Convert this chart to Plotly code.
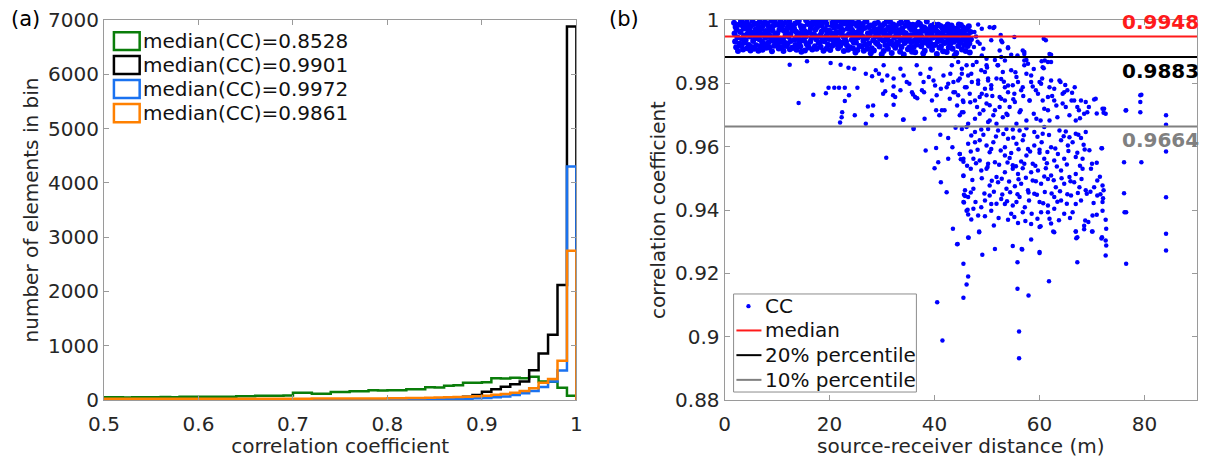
import numpy as np
import plotly.graph_objects as go

# ---------------- Panel (a): histogram data ----------------
bin_edges = np.round(np.linspace(0.5, 1.0, 51), 2)

counts_green = [50, 50, 48, 50, 52, 50, 55, 52, 60, 58,
                62, 60, 62, 60, 67, 67, 78, 80, 80, 85,
                135, 135, 117, 117, 147, 147, 160, 160, 178, 175,
                180, 178, 196, 200, 233, 230, 264, 270, 320, 318,
                325, 400, 398, 410, 400, 430, 340, 338, 225, 80]
counts_black = [15, 15, 15, 15, 15, 15, 15, 15, 15, 15,
                15, 15, 15, 15, 15, 15, 15, 15, 15, 15,
                15, 15, 15, 15, 15, 15, 15, 15, 15, 15,
                20, 20, 22, 25, 28, 30, 35, 45, 60, 90,
                150, 200, 245, 290, 340, 550, 855, 1200, 2120, 6880]
counts_blue = [5, 5, 5, 5, 5, 5, 5, 5, 5, 5,
               5, 5, 5, 5, 5, 5, 5, 5, 5, 5,
               5, 5, 5, 5, 5, 5, 5, 5, 5, 5,
               8, 9, 10, 11, 12, 14, 16, 19, 24, 30,
               38, 50, 65, 92, 123, 165, 240, 340, 545, 4300]
counts_orange = [22, 22, 22, 22, 22, 22, 22, 22, 22, 22,
                 22, 22, 22, 22, 22, 22, 22, 22, 22, 22,
                 25, 25, 26, 26, 27, 27, 28, 28, 29, 29,
                 30, 32, 35, 38, 42, 46, 50, 55, 62, 70,
                 80, 95, 110, 135, 165, 215, 320, 385, 725, 2750]

hist_labels = ["median(CC)=0.8528", "median(CC)=0.9901",
               "median(CC)=0.9972", "median(CC)=0.9861"]
hist_colors = ["#0a7d0a", "#000000", "#1a72f0", "#ff8000"]

# ---------------- Panel (b): scatter data ----------------
band_x = [
 1.8, 1.9, 2.0, 2.1, 2.2, 2.3, 2.45, 2.55, 2.7, 2.85,
 3.02, 3.13, 3.22, 3.31, 3.44, 3.52, 3.63, 3.71, 3.84, 3.93,
 4.02, 4.13, 4.22, 4.31, 4.44, 4.52, 4.63, 4.71, 4.84, 4.93,
 5.02, 5.13, 5.22, 5.31, 5.44, 5.52, 5.63, 5.71, 5.84, 5.93,
 6.02, 6.13, 6.22, 6.31, 6.44, 6.52, 6.63, 6.71, 6.84, 6.93,
 7.02, 7.13, 7.22, 7.31, 7.44, 7.52, 7.63, 7.71, 7.84, 7.93,
 8.02, 8.13, 8.22, 8.31, 8.44, 8.52, 8.63, 8.71, 8.84, 8.93,
 9.02, 9.13, 9.22, 9.31, 9.44, 9.52, 9.63, 9.71, 9.84, 9.93,
 10.02, 10.13, 10.22, 10.31, 10.44, 10.52, 10.63, 10.71, 10.84, 10.93,
 11.02, 11.13, 11.22, 11.31, 11.44, 11.52, 11.63, 11.71, 11.84, 11.93,
 12.02, 12.13, 12.22, 12.31, 12.44, 12.52, 12.63, 12.71, 12.84, 12.93,
 13.02, 13.13, 13.22, 13.31, 13.44, 13.52, 13.63, 13.71, 13.84, 13.93,
 14.02, 14.13, 14.22, 14.31, 14.44, 14.52, 14.63, 14.71, 14.84, 14.93,
 15.02, 15.13, 15.22, 15.31, 15.44, 15.52, 15.63, 15.71, 15.84, 15.93,
 16.02, 16.13, 16.22, 16.31, 16.44, 16.52, 16.63, 16.71, 16.84, 16.93,
 17.02, 17.13, 17.22, 17.31, 17.44, 17.52, 17.63, 17.71, 17.84, 17.93,
 18.02, 18.13, 18.22, 18.31, 18.44, 18.52, 18.63, 18.71, 18.84, 18.93,
 19.02, 19.13, 19.22, 19.31, 19.44, 19.52, 19.63, 19.71, 19.84, 19.93,
 20.02, 20.13, 20.22, 20.31, 20.44, 20.52, 20.63, 20.71, 20.84, 20.93,
 21.02, 21.13, 21.22, 21.31, 21.44, 21.52, 21.63, 21.71, 21.84, 21.93,
 22.02, 22.13, 22.22, 22.31, 22.44, 22.52, 22.63, 22.71, 22.84, 22.93,
 23.02, 23.13, 23.22, 23.31, 23.44, 23.52, 23.63, 23.71, 23.84, 23.93,
 24.02, 24.13, 24.22, 24.31, 24.44, 24.52, 24.63, 24.71, 24.84, 24.93,
 25.02, 25.13, 25.22, 25.31, 25.44, 25.52, 25.63, 25.71, 25.84, 25.93,
 26.02, 26.13, 26.22, 26.31, 26.44, 26.52, 26.63, 26.71, 26.84, 26.93,
 27.02, 27.13, 27.22, 27.31, 27.44, 27.52, 27.63, 27.71, 27.84, 27.93,
 28.02, 28.13, 28.22, 28.31, 28.44, 28.52, 28.63, 28.71, 28.84, 28.93,
 29.02, 29.13, 29.22, 29.31, 29.44, 29.52, 29.63, 29.71, 29.84, 29.93,
 30.02, 30.13, 30.22, 30.31, 30.44, 30.52, 30.63, 30.71, 30.84, 30.93,
 31.02, 31.13, 31.22, 31.31, 31.44, 31.52, 31.63, 31.71, 31.84, 31.93,
 32.02, 32.13, 32.22, 32.31, 32.44, 32.52, 32.63, 32.71, 32.84, 32.93,
 33.02, 33.13, 33.22, 33.31, 33.44, 33.52, 33.63, 33.71, 33.84, 33.93,
 34.02, 34.13, 34.22, 34.31, 34.44, 34.52, 34.63, 34.71, 34.84, 34.93,
 35.02, 35.13, 35.22, 35.31, 35.44, 35.52, 35.63, 35.71, 35.84, 35.93,
 36.02, 36.13, 36.22, 36.31, 36.44, 36.52, 36.63, 36.71, 36.84, 36.93,
 37.02, 37.13, 37.22, 37.31, 37.44, 37.52, 37.63, 37.71, 37.84, 37.93,
 38.02, 38.13, 38.22, 38.31, 38.44, 38.52, 38.63, 38.71, 38.84, 38.93,
 39.02, 39.13, 39.22, 39.31, 39.44, 39.52, 39.63, 39.71, 39.84, 39.93,
 40.02, 40.13, 40.22, 40.31, 40.44, 40.52, 40.63, 40.71, 40.84, 40.93,
 41.02, 41.13, 41.22, 41.31, 41.44, 41.52, 41.63, 41.71, 41.84, 41.93,
 42.02, 42.13, 42.22, 42.31, 42.44, 42.52, 42.63, 42.71, 42.84, 42.93,
 43.02, 43.13, 43.22, 43.31, 43.44, 43.52, 43.63, 43.71, 43.84, 43.93,
 44.02, 44.13, 44.22, 44.31, 44.44, 44.52, 44.63, 44.71, 44.84, 44.93,
 45.02, 45.13, 45.22, 45.31, 45.44, 45.52, 45.63, 45.71, 45.84, 45.93,
 46.02, 46.13, 46.22, 46.31, 46.44, 46.52, 46.63, 46.71, 46.84, 46.93,
]
band_y = [
 .9991, .9957, .9932, .9978, .9914, .9969, .9945, .9902, .9985, .9925,
 .9962, .9996, .9918, .9940, .9983, .9907, .9973, .9951, .9929, .9989,
 .9937, .9975, .9993, .9911, .9958, .9984, .9921, .9966, .9948, .9904,
 .9980, .9915, .9954, .9997, .9934, .9961, .9909, .9987, .9942, .9970,
 .9920, .9949, .9988, .9963, .9903, .9976, .9939, .9994, .9917, .9955,
 .9971, .9931, .9906, .9982, .9953, .9924, .9992, .9944, .9965, .9912,
 .9946, .9990, .9960, .9928, .9979, .9913, .9950, .9972, .9935, .9998,
 .9901, .9967, .9981, .9943, .9919, .9995, .9956, .9927, .9986, .9938,
 .9958, .9923, .9986, .9910, .9969, .9941, .9997, .9932, .9977, .9915,
 .9984, .9940, .9902, .9966, .9928, .9991, .9952, .9918, .9961, .9973,
 .9926, .9979, .9947, .9996, .9908, .9955, .9934, .9983, .9912, .9968,
 .9968, .9912, .9974, .9938, .9989, .9921, .9963, .9906, .9949, .9993,
 .9943, .9997, .9929, .9957, .9916, .9981, .9900, .9972, .9936, .9952,
 .9979, .9935, .9965, .9904, .9948, .9999, .9924, .9959, .9987, .9917,
 .9913, .9962, .9990, .9931, .9974, .9944, .9985, .9907, .9954, .9997,
 .9955, .9988, .9917, .9970, .9939, .9909, .9978, .9946, .9998, .9929,
 .9992, .9927, .9953, .9915, .9983, .9964, .9937, .9995, .9903, .9971,
 .9933, .9971, .9998, .9949, .9910, .9986, .9958, .9922, .9967, .9940,
 .9964, .9905, .9942, .9984, .9957, .9919, .9993, .9935, .9976, .9950,
 .9986, .9951, .9924, .9962, .9997, .9940, .9911, .9979, .9931, .9960,
 .9918, .9976, .9958, .9993, .9927, .9968, .9948, .9902, .9989, .9937,
 .9949, .9932, .9995, .9920, .9973, .9906, .9985, .9956, .9914, .9980,
 .9975, .9996, .9938, .9967, .9911, .9954, .9929, .9990, .9944, .9897,
 .9929, .9960, .9982, .9905, .9945, .9992, .9968, .9918, .9957, .9978,
 .9966, .9917, .9949, .9987, .9934, .9903, .9975, .9942, .9999, .9923,
 .9995, .9942, .9909, .9958, .9978, .9926, .9952, .9983, .9895, .9963,
 .9911, .9983, .9964, .9936, .9904, .9972, .9989, .9947, .9928, .9956,
 .9957, .9924, .9991, .9971, .9946, .9916, .9940, .9977, .9962, .9892,
 .9983, .9965, .9935, .9902, .9988, .9953, .9921, .9968, .9939, .9997,
 .9938, .9909, .9977, .9951, .9925, .9994, .9961, .9932, .9896, .9974,
 .9970, .9986, .9920, .9944, .9965, .9912, .9981, .9955, .9929, .9948,
 .9924, .9953, .9968, .9989, .9900, .9937, .9992, .9915, .9973, .9961,
 .9961, .9891, .9944, .9927, .9982, .9958, .9934, .9996, .9950, .9908,
 .9987, .9945, .9913, .9975, .9952, .9930, .9969, .9900, .9985, .9934,
 .9915, .9972, .9956, .9898, .9939, .9984, .9923, .9962, .9943, .9991,
 .9952, .9935, .9987, .9963, .9917, .9947, .9978, .9929, .9894, .9966,
 .9976, .9903, .9940, .9928, .9971, .9995, .9955, .9937, .9962, .9919,
 .9936, .9967, .9926, .9981, .9958, .9906, .9944, .9973, .9921, .9986,
 .9967, .9922, .9979, .9947, .9893, .9963, .9933, .9985, .9954, .9912,
 .9942, .9981, .9916, .9959, .9934, .9975, .9901, .9950, .9968, .9927,
 .9978, .9948, .9930, .9899, .9965, .9986, .9939, .9913, .9957, .9970,
 .9925, .9961, .9983, .9940, .9909, .9952, .9974, .9931, .9888, .9946,
 .9959, .9896, .9945, .9972, .9938, .9918, .9986, .9955, .9929, .9964,
 .9984, .9937, .9907, .9953, .9976, .9943, .9921, .9967, .9949, .9902,
 .9934, .9969, .9951, .9918, .9945, .9980, .9926, .9897, .9962, .9939,
]

sparse_x = [
 12.4, 15.7, 14.1, 16.9, 19.3, 19.8, 20.9, 21.8, 22.9, 25.3, 20.2, 22.1, 23.6, 24.7, 23.7, 22.9,
 22.4, 22.3, 22.0, 24.8, 26.9, 27.3, 28.3, 26.9, 28.1, 28.8, 30.3, 31.0, 30.2, 30.6, 28.1, 30.8,
 32.2, 32.1, 32.2, 32.2, 33.5, 34.0, 34.1, 34.7, 36.0, 35.7, 36.3, 36.6, 37.3, 37.9, 38.0, 39.2,
 39.8, 40.1, 40.4, 40.9, 41.4, 41.7, 42.3, 42.9, 43.3, 43.6, 43.9, 44.3, 44.8, 45.2, 45.4,
 29.4, 30.0, 32.5, 33.5, 34.1, 35.2, 35.9, 36.7, 37.6, 38.1, 38.9, 39.5, 40.3, 41.2, 41.9, 42.6,
 43.0, 43.6, 44.5, 45.5, 46.1, 46.4, 47.0, 47.7, 48.3, 48.6, 49.0, 49.6, 49.9, 50.2, 50.5, 50.8,
 51.5, 52.0, 52.4, 52.7, 53.0, 53.4, 54.0, 54.3, 54.6, 55.2, 55.6, 55.9, 56.4, 56.8, 57.1, 57.5,
 58.1, 58.4, 58.9, 59.3, 60.0, 60.2, 60.6, 61.0, 61.6, 61.9, 62.2, 62.8, 63.4, 64.0, 64.4, 65.0,
 65.3, 66.1, 66.7, 66.9, 67.5, 67.9, 68.5, 68.8, 70.4, 72.0, 72.2, 72.6, 76.5, 79.2, 79.2, 79.2,
 84.1, 84.1,
 44.5, 45.2, 46.1, 44.8, 46.4, 45.8, 47.1, 44.5, 45.5, 46.7, 45.2, 47.7, 48.0, 48.9, 49.9, 48.3,
 50.2, 49.6, 50.8, 48.6, 49.9, 50.5, 49.3, 51.2, 51.8, 50.2, 52.1, 53.0, 51.8, 53.4, 52.7, 54.0,
 52.4, 53.7, 54.9, 55.6, 55.3, 56.5, 56.2, 57.5, 58.4, 58.1, 59.4, 59.7, 60.3, 60.9, 61.6, 61.9,
 62.8, 63.8, 64.4, 64.7, 65.7, 66.6, 67.2, 69.1, 70.7, 72.3, 76.4, 79.4,
 48.3, 49.0, 48.6, 49.3, 50.5, 51.2, 50.8, 52.6, 52.9, 52.4, 54.0, 54.6, 55.2, 56.8, 57.1, 60.8,
 61.2, 61.9, 62.2, 52.7, 51.5, 49.0, 49.9, 53.4, 57.5, 57.8, 60.6, 61.6, 47.6, 47.9, 48.2, 47.5,
 51.4, 52.7, 54.0, 57.1, 55.8, 57.1, 60.4, 60.8, 62.2,
 45.2, 46.1, 47.7, 48.9, 50.2, 52.1, 53.7, 54.9, 56.2, 57.5, 59.0, 60.6, 60.9, 63.8, 65.0, 65.7,
 66.9, 67.9, 68.8,
 46.4, 47.7, 48.6, 49.9, 50.8, 51.2, 54.0, 53.4, 55.6, 56.8, 57.8, 59.0, 60.4, 62.2, 64.1, 65.4,
 66.3, 68.4, 68.6,
 44.8, 45.5, 47.4, 48.6, 50.2, 51.5, 53.4, 54.3, 54.9, 56.5, 57.5, 58.7, 60.0, 60.9, 62.8, 63.5,
 64.7, 66.9, 68.2, 70.0, 71.9,
 45.5, 46.9, 48.9, 49.9, 51.8, 53.4, 54.9, 55.9, 56.8, 58.4, 59.7, 61.2, 62.2, 64.1, 65.7, 66.9,
 68.2, 69.8,
 45.8, 47.4, 50.5, 52.1, 53.7, 55.3, 56.5, 57.8, 58.7, 60.3, 61.6, 63.1, 64.7, 66.6, 67.6, 68.8,
 70.4, 71.0, 72.0, 72.2,
 45.5, 46.4, 48.9, 50.5, 50.8, 52.7, 53.4, 54.9, 56.2, 57.2, 59.0, 60.0, 61.6, 62.8, 64.1, 66.0,
 66.9, 69.0, 71.0, 72.0, 72.1,
 46.1, 47.4, 48.3, 49.6, 50.8, 54.6, 56.8, 58.5, 60.3, 61.6, 61.9, 62.8, 64.7, 66.3, 68.7, 70.1,
 70.9, 72.0, 72.6,
 46.4, 48.5, 51.3, 54.0, 55.9, 58.4, 60.2, 62.2, 62.8, 66.9, 70.0, 71.9, 72.7,
 44.4, 49.1, 51.5, 54.9, 56.7, 58.4, 60.0, 67.2, 72.6, 72.7, 72.6,
 30.8, 36.0, 38.3, 40.3, 41.1, 42.6, 43.4, 44.0, 40.7, 40.0, 42.6, 44.8, 45.0, 45.5, 41.2, 42.3,
 45.5, 45.6, 45.6, 43.5, 44.3,
 45.5, 55.8, 67.2, 76.5, 46.4, 46.1, 61.8, 55.8, 57.9, 45.5, 40.5, 56.1, 41.5, 56.1,
 84.1, 84.1, 84.1, 76.2, 76.5, 76.1, 71.8, 70.1, 68.5, 68.5, 66.9, 67.0, 62.6, 60.0, 60.0, 56.6,
 48.5, 46.5, 46.4, 46.3, 45.8, 71.8, 76.1, 79.4, 84.1,
 47.0, 49.3, 51.7, 53.1, 55.0, 57.0, 59.6, 61.8, 64.6, 67.4,
 46.9, 48.2, 50.5, 52.6, 54.6, 56.0, 58.2, 60.0, 61.5, 63.0, 65.5, 67.2, 69.5,
 46.2, 47.9, 50.1, 52.3, 53.9, 55.5, 57.1, 59.2, 61.4, 63.3, 65.2, 67.7, 70.9,
 47.2, 49.0, 50.9, 52.8, 54.2, 56.0, 57.4, 59.3, 60.9, 62.7, 64.2, 65.9, 68.0, 71.5,
 46.9, 49.5, 51.3, 52.9, 54.4, 55.8, 57.9, 59.5, 61.0, 62.3, 63.9, 65.3, 67.3, 69.7, 71.6,
 47.8, 49.6, 51.8, 53.8, 55.6, 58.0, 60.7, 63.4, 65.2, 67.9, 70.3,
 47.0, 52.2, 55.2, 57.3, 59.6, 63.7, 65.8, 69.3,
 46.8, 48.1, 51.0, 53.2, 55.0, 56.9, 58.7, 60.5, 62.4, 63.2, 64.9, 66.2, 67.7, 69.4, 70.9, 55.4,
 58.9, 50.0, 47.3, 53.9,
]
sparse_y = [
 .9859, .9870, .9738, .9764, .9769, .9786, .9786, .9786, .9786, .9786, .9864, .9859, .9849, .9846, .9762, .9744,
 .9709, .9693, .9676, .9699, .9672, .9727, .9730, .9830, .9822, .9841, .9857, .9825, .9767, .9775, .9699, .9699,
 .9732, .9762, .9790, .9815, .9846, .9685, .9825, .9804, .9659, .9772, .9757, .9857, .9830, .9804, .9772, .9846,
 .9809, .9793, .9762, .9699, .9715, .9825, .9788, .9751, .9857, .9804, .9772, .9730, .9699, .9830, .9746,
 .9830, .9809, .9757, .9778, .9686, .9799, .9765, .9753, .9778, .9688, .9820, .9746, .9715, .9783, .9715, .9799,
 .9830, .9772, .9809, .9709, .9788, .9672, .9830, .9746, .9799, .9704, .9767, .9836, .9736, .9809, .9683, .9783,
 .9715, .9857, .9757, .9814, .9693, .9746, .9793, .9725, .9841, .9767, .9672, .9804, .9715, .9788, .9857, .9683,
 .9746, .9825, .9704, .9778, .9804, .9683, .9746, .9872, .9715, .9788, .9809, .9746, .9693, .9804, .9767, .9725,
 .9778, .9746, .9788, .9683, .9715, .9746, .9704, .9741, .9749, .9720, .9707, .9704, .9715, .9762, .9741, .9709,
 .9699, .9669,
 .9867, .9846, .9857, .9815, .9825, .9788, .9804, .9762, .9741, .9767, .9709, .9688, .9867, .9841, .9857, .9809,
 .9815, .9783, .9794, .9757, .9762, .9731, .9715, .9699, .9672, .9678, .9857, .9836, .9815, .9788, .9751, .9772,
 .9725, .9704, .9794, .9820, .9741, .9778, .9709, .9830, .9804, .9746, .9688, .9767, .9799, .9720, .9757, .9683,
 .9783, .9809, .9736, .9772, .9699, .9746, .9725, .9709, .9751, .9720, .9714, .9764,
 .9986, .9972, .9925, .9909, .9977, .9975, .9936, .9953, .9930, .9904, .9914, .9890, .9946, .9904, .9893, .9941,
 .9936, .9893, .9867, .9883, .9874, .9888, .9878, .9872, .9874, .9862, .9851, .9867, .9962, .9948, .9931, .9915,
 .9978, .9935, .9911, .9899, .9888, .9872, .9870, .9848, .9890,
 .9656, .9662, .9646, .9654, .9656, .9651, .9656, .9654, .9651, .9658, .9646, .9641, .9662, .9651, .9648, .9630,
 .9641, .9627, .9646,
 .9609, .9614, .9620, .9604, .9593, .9614, .9625, .9598, .9609, .9620, .9593, .9604, .9614, .9598, .9620, .9604,
 .9614, .9606, .9591,
 .9577, .9562, .9562, .9556, .9546, .9551, .9572, .9564, .9541, .9553, .9572, .9546, .9581, .9562, .9556, .9577,
 .9562, .9567, .9562, .9546, .9595,
 .9509, .9530, .9525, .9530, .9504, .9519, .9530, .9514, .9532, .9519, .9525, .9532, .9509, .9525, .9504, .9514,
 .9530, .9530,
 .9462, .9467, .9477, .9488, .9467, .9475, .9483, .9462, .9493, .9483, .9498, .9472, .9483, .9488, .9472, .9462,
 .9472, .9493, .9477, .9462,
 .9425, .9441, .9409, .9446, .9419, .9435, .9419, .9414, .9441, .9409, .9451, .9425, .9414, .9441, .9430, .9446,
 .9419, .9451, .9446, .9425, .9437,
 .9398, .9404, .9383, .9380, .9398, .9388, .9393, .9388, .9393, .9393, .9372, .9404, .9388, .9393, .9367, .9383,
 .9385, .9398, .9369,
 .9313, .9330, .9351, .9369, .9359, .9356, .9349, .9357, .9330, .9332, .9332, .9314, .9341,
 .9293, .9259, .9277, .9286, .9275, .9307, .9264, .9314, .9304, .9288, .9256,
 .9565, .9656, .9588, .9596, .9638, .9627, .9598, .9660, .9551, .9532, .9562, .9577, .9560, .9552, .9488, .9456,
 .9507, .9448, .9424, .9341, .9292,
 .9230, .9235, .9235, .9230, .9190, .9165, .9175, .9151, .9130, .9123, .9109, .9016, .8988, .8932,
 .9440, .9325, .9272, .9393, .9393, .9453, .9310, .9332, .9350, .9339, .9332, .9311, .9332, .9267, .9346, .9277,
 .9332, .9312, .9386, .9401, .9444, .9595, .9551, .9551, .9585,
 .9635, .9638, .9632, .9640, .9628, .9636, .9631, .9637, .9633, .9638,
 .9585, .9590, .9582, .9588, .9580, .9592, .9585, .9590, .9583, .9594, .9586, .9581, .9589,
 .9540, .9548, .9536, .9543, .9550, .9538, .9546, .9540, .9548, .9537, .9544, .9540, .9549,
 .9495, .9500, .9492, .9499, .9490, .9497, .9502, .9491, .9506, .9494, .9500, .9491, .9498, .9505,
 .9455, .9452, .9458, .9449, .9456, .9450, .9455, .9448, .9457, .9452, .9459, .9450, .9454, .9458, .9450,
 .9425, .9430, .9420, .9428, .9425, .9430, .9421, .9426, .9420, .9430, .9422,
 .9370, .9375, .9378, .9365, .9372, .9368, .9375, .9362,
 .9740, .9725, .9760, .9805, .9750, .9760, .9790, .9815, .9760, .9730, .9795, .9770, .9690, .9725, .9705, .9835,
 .9845, .9850, .9858, .9700,
]

median_val = 0.9948
p20_val = 0.9883
p10_val = 0.9664
dist_range = [0, 90]

legend_b_labels = ["CC", "median", "20% percentile", "10% percentile"]
legend_b_colors = ["#0000ff", "#ff1a1a", "#000000", "#808080"]

FONT = "DejaVu Sans"
TXT = "#262626"
FRAME = "#9a9a9a"

fig = go.Figure()

# stairs histograms
counts_all = [counts_green, counts_black, counts_blue, counts_orange]
for cnt, col, lab in zip(counts_all, hist_colors, hist_labels):
    xs = [bin_edges[0]] + list(bin_edges[:-1]) + [bin_edges[-1], bin_edges[-1]]
    ys = [0] + list(cnt) + [cnt[-1], 0]
    fig.add_trace(go.Scatter(x=xs, y=ys, mode="lines", name=lab,
                             line=dict(color=col, width=2.5, shape="hv"),
                             showlegend=False, xaxis="x", yaxis="y", hoverinfo="skip"))

# scatter
fig.add_trace(go.Scatter(x=sparse_x, y=sparse_y, mode="markers", name="CC",
                         marker=dict(color="#0000ff", size=4.5), showlegend=False,
                         xaxis="x2", yaxis="y2"))
fig.add_trace(go.Scatter(x=band_x, y=band_y, mode="markers", name="CC",
                         marker=dict(color="#0000ff", size=6), showlegend=False,
                         xaxis="x2", yaxis="y2"))
for val, nm, col in [(median_val, "median", "#ff1a1a"), (p20_val, "20% percentile", "#000000"),
                     (p10_val, "10% percentile", "#808080")]:
    fig.add_trace(go.Scatter(x=dist_range, y=[val, val], mode="lines", name=nm,
                             line=dict(color=col, width=2), showlegend=False,
                             xaxis="x2", yaxis="y2"))

annotations = []
shapes = []
# legend for panel (a)
box_y = [(0.921, 0.968), (0.858, 0.905), (0.795, 0.842), (0.731, 0.779)]
for (y0, y1), lab, col in zip(box_y, hist_labels, hist_colors):
    shapes.append(dict(type="rect", xref="x domain", yref="y domain", x0=0.021, x1=0.0755,
                       y0=y0, y1=y1, line=dict(color=col, width=2.5), fillcolor="rgba(0,0,0,0)"))
    annotations.append(dict(text=lab, xref="x domain", yref="y domain", x=0.079, y=(y0 + y1) / 2,
                            xanchor="left", yanchor="middle", showarrow=False,
                            font=dict(family=FONT, size=20, color="#111111")))

# legend for panel (b)
shapes.append(dict(type="rect", xref="x2 domain", yref="y2 domain", x0=0.019, x1=0.406,
                   y0=0.021, y1=0.279, line=dict(color="#8c8c8c", width=1), fillcolor="white",
                   layer="above"))
row_y = [0.247, 0.183, 0.118, 0.053]
for i, (ry, lab, col) in enumerate(zip(row_y, legend_b_labels, legend_b_colors)):
    if i == 0:
        shapes.append(dict(type="circle", xref="x2 domain", yref="y2 domain",
                           x0=0.0505 - 0.0045, x1=0.0505 + 0.0045, y0=ry - 0.0057, y1=ry + 0.0057,
                           line=dict(width=0), fillcolor=col, layer="above"))
    else:
        shapes.append(dict(type="line", xref="x2 domain", yref="y2 domain", x0=0.025, x1=0.078,
                           y0=ry, y1=ry, line=dict(color=col, width=2), layer="above"))
    annotations.append(dict(text=lab, xref="x2 domain", yref="y2 domain", x=0.082, y=ry,
                            xanchor="left", yanchor="middle", showarrow=False,
                            font=dict(family=FONT, size=20, color="#111111")))

# value labels panel (b)
annotations.append(dict(text="<b>0.9948</b>", xref="x2", yref="y2", x=90, y=median_val, xanchor="right",
                        yanchor="bottom", xshift=4, showarrow=False,
                        font=dict(family=FONT, size=20, color="#ff1a1a")))
annotations.append(dict(text="<b>0.9883</b>", xref="x2", yref="y2", x=90, y=p20_val, xanchor="right",
                        yanchor="top", xshift=4, showarrow=False,
                        font=dict(family=FONT, size=20, color="#000000")))
annotations.append(dict(text="<b>0.9664</b>", xref="x2", yref="y2", x=90, y=p10_val, xanchor="right",
                        yanchor="top", xshift=4, showarrow=False,
                        font=dict(family=FONT, size=20, color="#808080")))
# panel letters
annotations.append(dict(text="(a)", xref="paper", yref="paper", x=-0.087, y=1.003, xanchor="left",
                        yanchor="middle", showarrow=False, font=dict(family=FONT, size=21, color="#000000")))
annotations.append(dict(text="(b)", xref="paper", yref="paper", x=0.4605, y=1.003, xanchor="left",
                        yanchor="middle", showarrow=False, font=dict(family=FONT, size=21, color="#000000")))

axis_common = dict(showline=True, linecolor=FRAME, linewidth=1, mirror="ticks", ticks="inside",
                   ticklen=5, tickcolor=FRAME, showgrid=False, zeroline=False,
                   tickfont=dict(family=FONT, size=20, color=TXT))

fig.update_layout(
    width=1208, height=458,
    margin=dict(l=104, r=5, t=20, b=58),
    paper_bgcolor="white", plot_bgcolor="white",
    font=dict(family=FONT, size=20, color=TXT),
    showlegend=False,
    xaxis=dict(domain=[0, 0.4322], range=[0.5, 1.0], tickvals=[0.5, 0.6, 0.7, 0.8, 0.9, 1.0],
               ticktext=["0.5", "0.6", "0.7", "0.8", "0.9", "1"], ticklabelstandoff=6,
               title=dict(text="correlation coefficient", standoff=0, font=dict(family=FONT, size=20, color=TXT)),
               anchor="y", **axis_common),
    yaxis=dict(domain=[0, 1], range=[0, 7000], tickvals=[0, 1000, 2000, 3000, 4000, 5000, 6000, 7000],
               title=dict(text="number of elements in bin", standoff=4, font=dict(family=FONT, size=20, color=TXT)),
               anchor="x", **axis_common),
    xaxis2=dict(domain=[0.5678, 1], range=[0, 90], tickvals=[0, 20, 40, 60, 80], ticklabelstandoff=6,
                title=dict(text="source-receiver distance (m)", standoff=0, font=dict(family=FONT, size=20, color=TXT)),
                anchor="y2", **axis_common),
    yaxis2=dict(domain=[0, 1], range=[0.88, 1.0], tickvals=[0.88, 0.9, 0.92, 0.94, 0.96, 0.98, 1.0],
                ticktext=["0.88", "0.9", "0.92", "0.94", "0.96", "0.98", "1"],
                title=dict(text="correlation coefficient", standoff=4, font=dict(family=FONT, size=20, color=TXT)),
                anchor="x2", **axis_common),
    annotations=annotations, shapes=shapes,
)

fig.write_html("out.html")
